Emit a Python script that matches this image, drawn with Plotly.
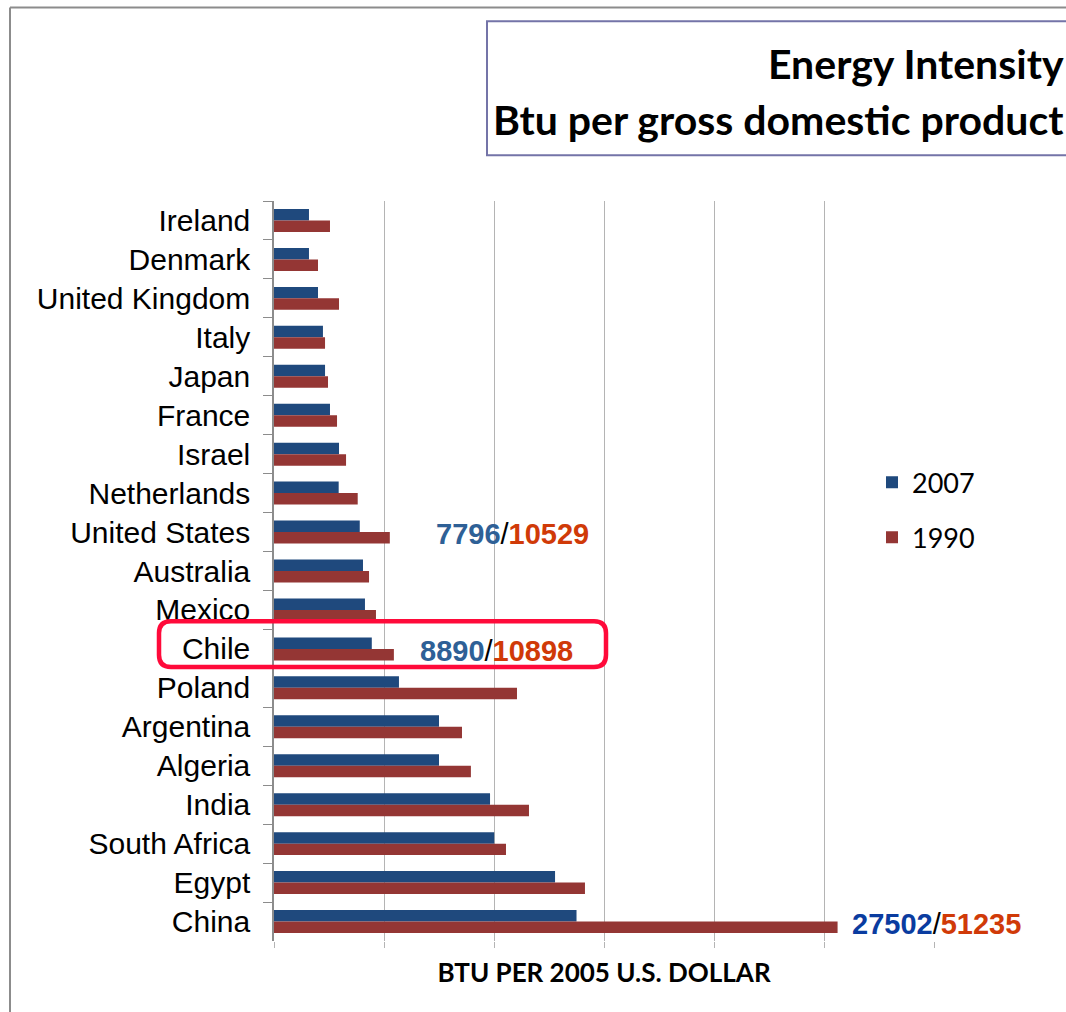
import plotly.graph_objects as go

countries = ["Ireland", "Denmark", "United Kingdom", "Italy", "Japan", "France", "Israel",
             "Netherlands", "United States", "Australia", "Mexico", "Chile", "Poland",
             "Argentina", "Algeria", "India", "South Africa", "Egypt", "China"]
values_2007 = [3180, 3180, 4000, 4450, 4640, 5090, 5910, 5880, 7796, 8090, 8270, 8890,
               11360, 15000, 15000, 19640, 20020, 25550, 27502]
values_1990 = [5090, 4000, 5910, 4640, 4910, 5730, 6550, 7610, 10529, 8640, 9270, 10898,
               22090, 17090, 17900, 23180, 21090, 28270, 51235]
series_names = ["2007", "1990"]
highlight = {"United States": (7796, 10529), "Chile": (8890, 10898), "China": (27502, 51235)}

W, H = 1066, 1012
L, R, T, B = 274, 934, 200.7, 941.0

def px(x):
    return (x - L) / (R - L)

def py(y):
    return (B - y) / (B - T)

fig = go.Figure()
fig.add_trace(go.Bar(y=countries, x=values_2007, name=series_names[0], orientation="h",
                     marker=dict(color="#1F497D", line=dict(width=0)), legendgroup="a"))
fig.add_trace(go.Bar(y=countries, x=values_1990, name=series_names[1], orientation="h",
                     marker=dict(color="#943634", line=dict(width=0)), legendgroup="b"))

annotations = []
label_pos = {"United States": (434, "#2E6096", "#D03A08"),
             "Chile": (418, "#2E6096", "#D03A08"),
             "China": (850, "#0A3CA0", "#D03A08")}
for c, (a, b) in highlight.items():
    xpix, ca, cb = label_pos[c]
    annotations.append(dict(
        x=px(xpix), xref="paper", y=c, yref="y", xanchor="left", yanchor="middle",
        yshift=-2, showarrow=False,
        text=f"<b><span style='color:{ca}'>{a}</span></b>/<b><span style='color:{cb}'>{b}</span></b>",
        font=dict(family="Liberation Sans", size=29, color="black")))

annotations.append(dict(x=px(1066), xref="paper", y=py(63), yref="paper", xanchor="right",
                        yanchor="middle", showarrow=False, text="Energy Intensity",
                        font=dict(family="Lato", size=41, color="black", weight="bold")))
annotations.append(dict(x=px(1066), xref="paper", y=py(119), yref="paper", xanchor="right",
                        yanchor="middle", showarrow=False, text="Btu per gross domestic product",
                        font=dict(family="Lato", size=41, color="black", weight="bold")))

shapes = [
    dict(type="line", xref="paper", yref="paper", x0=px(10), x1=px(1070), y0=py(7), y1=py(7),
         line=dict(color="#8C8C8C", width=2)),
    dict(type="line", xref="paper", yref="paper", x0=px(10), x1=px(10), y0=py(7), y1=py(1015),
         line=dict(color="#8C8C8C", width=2)),
    dict(type="rect", xref="paper", yref="paper", x0=px(487), x1=px(1080), y0=py(21), y1=py(155),
         line=dict(color="#7474A8", width=2), fillcolor="rgba(0,0,0,0)"),
]
# rounded highlight box around Chile
x0, x1, y0, y1, r = px(159), px(606), py(621), py(667), 12
rx, ry = r / (R - L), r / (B - T)
path = (f"M {x0+rx},{y0} L {x1-rx},{y0} Q {x1},{y0} {x1},{y0-ry} "
        f"L {x1},{y1+ry} Q {x1},{y1} {x1-rx},{y1} L {x0+rx},{y1} Q {x0},{y1} {x0},{y1+ry} "
        f"L {x0},{y0-ry} Q {x0},{y0} {x0+rx},{y0} Z")
shapes.append(dict(type="path", xref="paper", yref="paper", path=path,
                   line=dict(color="#FF0A3A", width=4.5), fillcolor="rgba(0,0,0,0)"))

fig.update_layout(
    width=W, height=H,
    margin=dict(l=L, r=W - R, t=T, b=H - B, autoexpand=False),
    paper_bgcolor="white", plot_bgcolor="white",
    barmode="group", bargap=0.41, bargroupgap=0,
    font=dict(family="Liberation Sans", color="black"),
    xaxis=dict(range=[0, 60000], dtick=10000, showgrid=True, gridcolor="#B4B4B4", gridwidth=1,
               showticklabels=False, ticks="outside", ticklen=6, tickcolor="#B4B4B4",
               showline=False, zeroline=False, fixedrange=True,
               title=dict(text="BTU PER 2005 U.S. DOLLAR",
                          font=dict(family="Lato", size=26, color="black", weight="bold"),
                          standoff=16)),
    yaxis=dict(type="category", categoryorder="array", categoryarray=countries,
               autorange="reversed", showgrid=False, showline=True, linecolor="#8C8C8C",
               linewidth=1.5, ticks="outside", ticklen=9, tickcolor="#8C8C8C",
               tickson="boundaries", ticklabelstandoff=16,
               tickfont=dict(family="Liberation Sans", size=30, color="black")),
    legend=dict(x=px(872), y=py(458), xanchor="left", yanchor="top", bgcolor="white",
                font=dict(family="Lato", size=27, color="black"), traceorder="grouped",
                tracegroupgap=17, itemclick=False),
    annotations=annotations, shapes=shapes,
)

fig.write_html("out.html")
